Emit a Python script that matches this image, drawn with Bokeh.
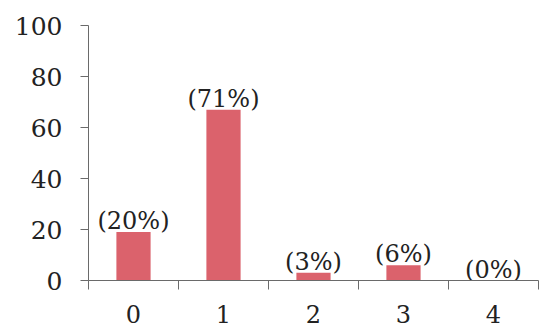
from bokeh.plotting import figure
from bokeh.models import ColumnDataSource, FixedTicker, Range1d
from bokeh.core.properties import value
from bokeh.embed import file_html
from bokeh.resources import INLINE

# Number of responses per category and their share of the total
categories = [0, 1, 2, 3, 4]
counts = [19, 67, 3, 6, 0]
shares = ["(20%)", "(71%)", "(3%)", "(6%)", "(0%)"]
y_ticks = [0, 20, 40, 60, 80, 100]

FONT = "DejaVu Serif"
INK = "#222222"
AXIS = "#6a6a6a"

source = ColumnDataSource(data=dict(x=categories, count=counts, label=shares))

p = figure(
    width=541, height=328,
    x_range=Range1d(-0.5, 4.5), y_range=Range1d(0, 100),
    output_backend="svg", toolbar_location=None,
    min_border_left=88, min_border_right=3, min_border_top=25, min_border_bottom=48,
)
p.outline_line_color = None
p.xgrid.grid_line_color = None
p.ygrid.grid_line_color = None
p.background_fill_color = "white"
p.border_fill_color = "white"

p.vbar(x="x", top="count", width=0.38, source=source,
       fill_color="#db626c", line_color=None)

p.text(x="x", y="count", text="label", source=source,
       text_font=value(FONT), text_font_size="24px", text_color=INK,
       text_align="center", text_baseline="bottom", y_offset=3)

# x axis: category numbers under the bars, tick marks between them
xa = p.xaxis[0]
xa.ticker = FixedTicker(ticks=categories,
                        minor_ticks=[c - 0.5 for c in categories] + [4.5])
xa.major_tick_line_color = None
xa.minor_tick_in = 0
xa.minor_tick_out = 9
xa.minor_tick_line_color = AXIS
xa.axis_line_color = AXIS
xa.major_label_standoff = 15
xa.major_label_text_font = FONT
xa.major_label_text_font_size = "24px"
xa.major_label_text_color = INK

ya = p.yaxis[0]
ya.ticker = FixedTicker(ticks=y_ticks)
ya.major_tick_in = 0
ya.major_tick_out = 8
ya.minor_tick_line_color = None
ya.major_tick_line_color = AXIS
ya.axis_line_color = AXIS
ya.major_label_standoff = 18
ya.major_label_text_font = FONT
ya.major_label_text_font_size = "25px"
ya.major_label_text_color = INK

open("out.html", "w").write(file_html(p, INLINE))
